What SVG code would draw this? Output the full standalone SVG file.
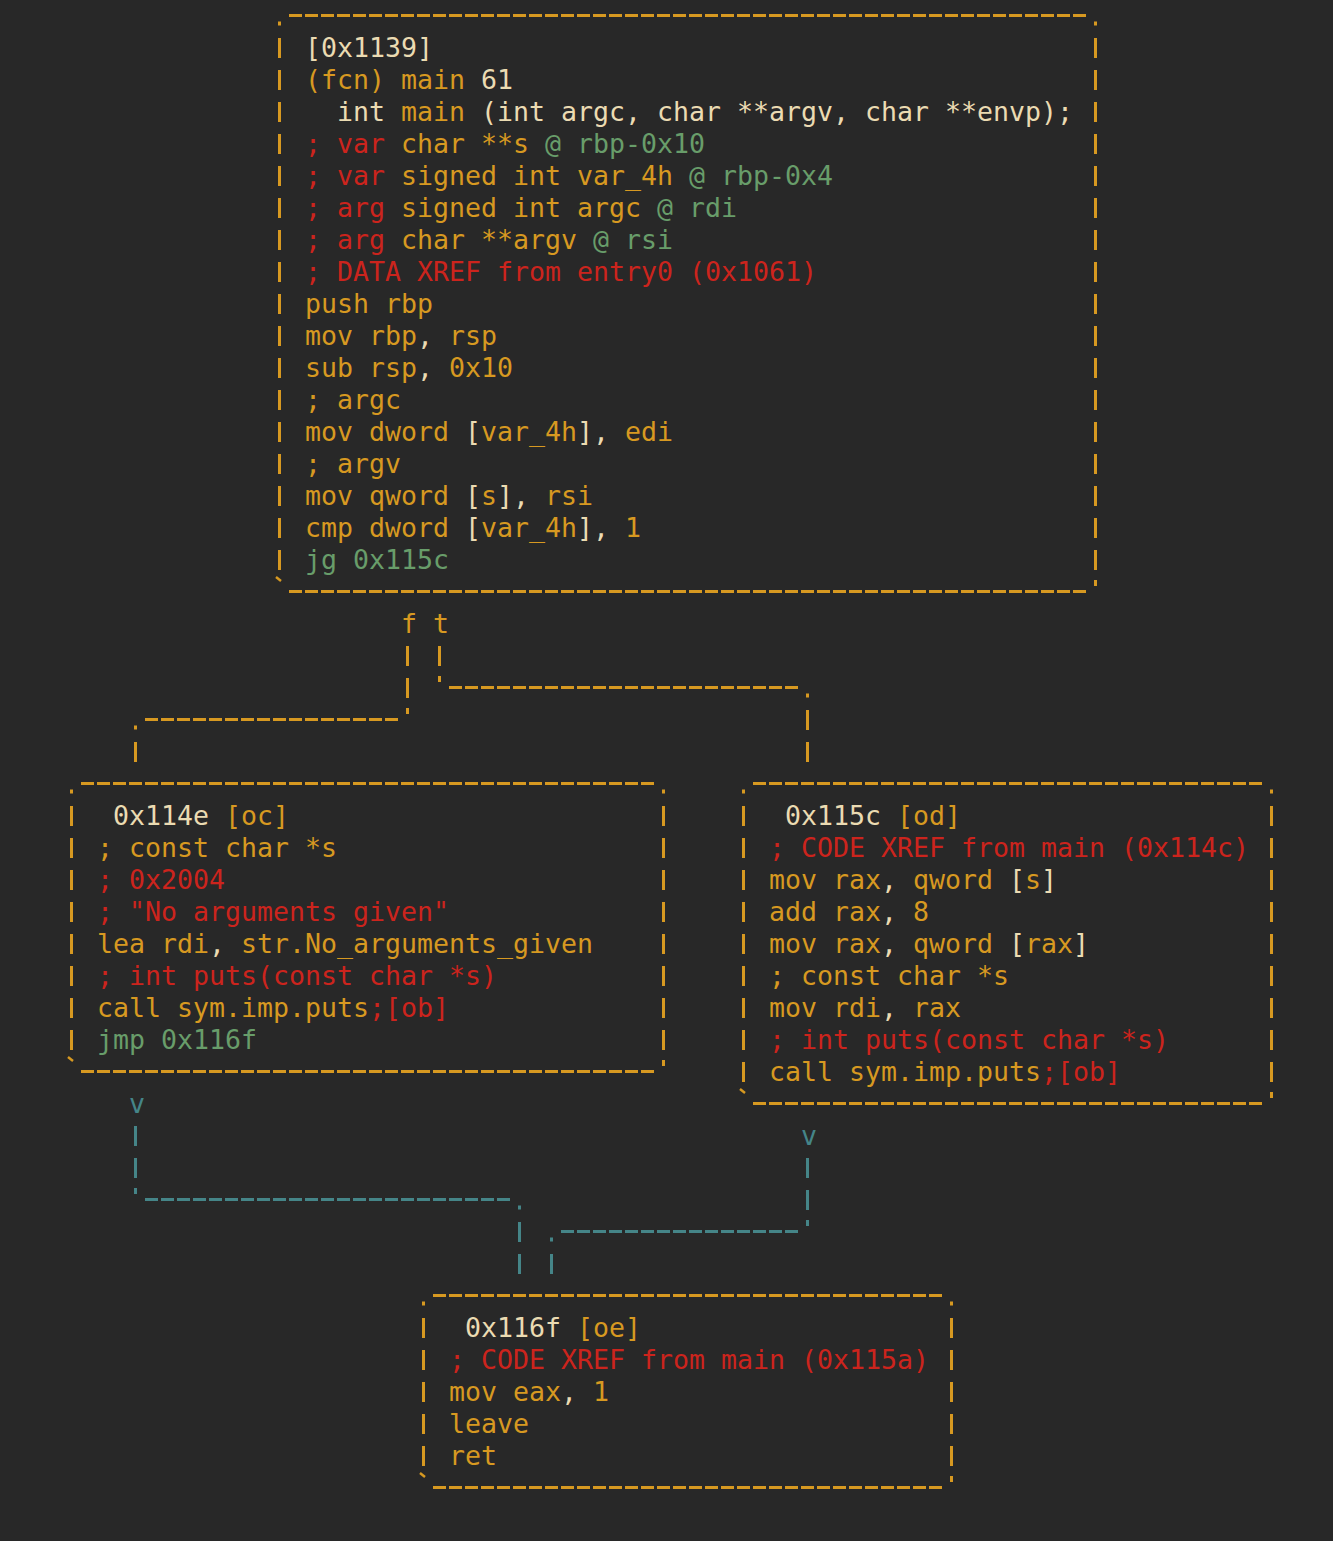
<svg xmlns="http://www.w3.org/2000/svg" width="1333" height="1541" viewBox="0 0 1333 1541">
<style>
text{font-family:"DejaVu Sans Mono","Liberation Mono",monospace;font-size:26.58px;white-space:pre}
.o{fill:#d79921}.c{fill:#ebdbb2}.r{fill:#cc241d}.g{fill:#689d6a}.t{fill:#458588}
.hb{stroke:#d79921;stroke-width:3;stroke-dasharray:13 3;fill:none}
.vb{stroke:#d79921;stroke-width:3;stroke-dasharray:20 12;fill:none}
.bt{stroke:#d79921;stroke-width:2.5;fill:none}
.ht{stroke:#458588;stroke-width:3;stroke-dasharray:13 3;fill:none}
.vt{stroke:#458588;stroke-width:3;stroke-dasharray:20 12;fill:none}
.dot{fill:#d79921}.dtt{fill:#458588}
</style>
<rect width="1333" height="1541" fill="#282828"/>

<g id="node-0x1139">
<line class="hb" x1="289" y1="15.5" x2="1086" y2="15.5"/>
<rect class="dot" x="278" y="21.5" width="3" height="4"/>
<rect class="dot" x="1094" y="21.5" width="3" height="4"/>
<line class="vb" x1="279.5" y1="38" x2="279.5" y2="570"/>
<line class="vb" x1="1095.5" y1="38" x2="1095.5" y2="570"/>
<line class="hb" x1="289" y1="591.5" x2="1086" y2="591.5"/>
<path class="bt" d="M276,577 L281,581"/>
<rect class="dot" x="1094" y="580" width="3" height="6"/>
<text x="305" y="57"><tspan class="c">[0x1139]</tspan></text>
<text x="305" y="89"><tspan class="o">(fcn) main </tspan><tspan class="c">61</tspan></text>
<text x="337" y="121"><tspan class="c">int </tspan><tspan class="o">main</tspan><tspan class="c"> (int argc, char **argv, char **envp);</tspan></text>
<text x="305" y="153"><tspan class="r">; var </tspan><tspan class="o">char **s </tspan><tspan class="g">@ rbp-0x10</tspan></text>
<text x="305" y="185"><tspan class="r">; var </tspan><tspan class="o">signed int var_4h </tspan><tspan class="g">@ rbp-0x4</tspan></text>
<text x="305" y="217"><tspan class="r">; arg </tspan><tspan class="o">signed int argc </tspan><tspan class="g">@ rdi</tspan></text>
<text x="305" y="249"><tspan class="r">; arg </tspan><tspan class="o">char **argv </tspan><tspan class="g">@ rsi</tspan></text>
<text x="305" y="281"><tspan class="r">; DATA XREF from entry0 (0x1061)</tspan></text>
<text x="305" y="313"><tspan class="o">push rbp</tspan></text>
<text x="305" y="345"><tspan class="o">mov rbp</tspan><tspan class="c">,</tspan><tspan class="o"> rsp</tspan></text>
<text x="305" y="377"><tspan class="o">sub rsp</tspan><tspan class="c">,</tspan><tspan class="o"> 0x10</tspan></text>
<text x="305" y="409"><tspan class="o">; argc</tspan></text>
<text x="305" y="441"><tspan class="o">mov dword </tspan><tspan class="c">[</tspan><tspan class="o">var_4h</tspan><tspan class="c">],</tspan><tspan class="o"> edi</tspan></text>
<text x="305" y="473"><tspan class="o">; argv</tspan></text>
<text x="305" y="505"><tspan class="o">mov qword </tspan><tspan class="c">[</tspan><tspan class="o">s</tspan><tspan class="c">],</tspan><tspan class="o"> rsi</tspan></text>
<text x="305" y="537"><tspan class="o">cmp dword </tspan><tspan class="c">[</tspan><tspan class="o">var_4h</tspan><tspan class="c">],</tspan><tspan class="o"> 1</tspan></text>
<text x="305" y="569"><tspan class="g">jg 0x115c</tspan></text>
</g>

<g id="node-0x114e">
<line class="hb" x1="81" y1="783.5" x2="654" y2="783.5"/>
<rect class="dot" x="70" y="789.5" width="3" height="4"/>
<rect class="dot" x="662" y="789.5" width="3" height="4"/>
<line class="vb" x1="71.5" y1="806" x2="71.5" y2="1050"/>
<line class="vb" x1="663.5" y1="806" x2="663.5" y2="1050"/>
<line class="hb" x1="81" y1="1071.5" x2="654" y2="1071.5"/>
<path class="bt" d="M68,1057 L73,1061"/>
<rect class="dot" x="662" y="1060" width="3" height="6"/>
<text x="113" y="825"><tspan class="c">0x114e </tspan><tspan class="o">[oc]</tspan></text>
<text x="97" y="857"><tspan class="o">; const char *s</tspan></text>
<text x="97" y="889"><tspan class="r">; 0x2004</tspan></text>
<text x="97" y="921"><tspan class="r">; "No arguments given"</tspan></text>
<text x="97" y="953"><tspan class="o">lea rdi</tspan><tspan class="c">,</tspan><tspan class="o"> str.No_arguments_given</tspan></text>
<text x="97" y="985"><tspan class="r">; int puts(const char *s)</tspan></text>
<text x="97" y="1017"><tspan class="o">call sym.imp.puts</tspan><tspan class="r">;[ob]</tspan></text>
<text x="97" y="1049"><tspan class="g">jmp 0x116f</tspan></text>
</g>

<g id="node-0x115c">
<line class="hb" x1="753" y1="783.5" x2="1262" y2="783.5"/>
<rect class="dot" x="742" y="789.5" width="3" height="4"/>
<rect class="dot" x="1270" y="789.5" width="3" height="4"/>
<line class="vb" x1="743.5" y1="806" x2="743.5" y2="1082"/>
<line class="vb" x1="1271.5" y1="806" x2="1271.5" y2="1082"/>
<line class="hb" x1="753" y1="1103.5" x2="1262" y2="1103.5"/>
<path class="bt" d="M740,1089 L745,1093"/>
<rect class="dot" x="1270" y="1092" width="3" height="6"/>
<text x="785" y="825"><tspan class="c">0x115c </tspan><tspan class="o">[od]</tspan></text>
<text x="769" y="857"><tspan class="r">; CODE XREF from main (0x114c)</tspan></text>
<text x="769" y="889"><tspan class="o">mov rax</tspan><tspan class="c">,</tspan><tspan class="o"> qword </tspan><tspan class="c">[</tspan><tspan class="o">s</tspan><tspan class="c">]</tspan></text>
<text x="769" y="921"><tspan class="o">add rax</tspan><tspan class="c">,</tspan><tspan class="o"> 8</tspan></text>
<text x="769" y="953"><tspan class="o">mov rax</tspan><tspan class="c">,</tspan><tspan class="o"> qword </tspan><tspan class="c">[</tspan><tspan class="o">rax</tspan><tspan class="c">]</tspan></text>
<text x="769" y="985"><tspan class="o">; const char *s</tspan></text>
<text x="769" y="1017"><tspan class="o">mov rdi</tspan><tspan class="c">,</tspan><tspan class="o"> rax</tspan></text>
<text x="769" y="1049"><tspan class="r">; int puts(const char *s)</tspan></text>
<text x="769" y="1081"><tspan class="o">call sym.imp.puts</tspan><tspan class="r">;[ob]</tspan></text>
</g>

<g id="node-0x116f">
<line class="hb" x1="433" y1="1295.5" x2="942" y2="1295.5"/>
<rect class="dot" x="422" y="1301.5" width="3" height="4"/>
<rect class="dot" x="950" y="1301.5" width="3" height="4"/>
<line class="vb" x1="423.5" y1="1318" x2="423.5" y2="1466"/>
<line class="vb" x1="951.5" y1="1318" x2="951.5" y2="1466"/>
<line class="hb" x1="433" y1="1487.5" x2="942" y2="1487.5"/>
<path class="bt" d="M420,1473 L425,1477"/>
<rect class="dot" x="950" y="1476" width="3" height="6"/>
<text x="465" y="1337"><tspan class="c">0x116f </tspan><tspan class="o">[oe]</tspan></text>
<text x="449" y="1369"><tspan class="r">; CODE XREF from main (0x115a)</tspan></text>
<text x="449" y="1401"><tspan class="o">mov eax</tspan><tspan class="c">,</tspan><tspan class="o"> 1</tspan></text>
<text x="449" y="1433"><tspan class="o">leave</tspan></text>
<text x="449" y="1465"><tspan class="o">ret</tspan></text>
</g>

<g id="connectors">
<text x="401" y="633" class="o">f</text>
<text x="433" y="633" class="o">t</text>
<line class="vb" x1="407.5" y1="646" x2="407.5" y2="698"/>
<rect class="dot" x="406" y="708" width="3" height="6"/>
<line class="hb" x1="145" y1="719.5" x2="398" y2="719.5"/>
<rect class="dot" x="134" y="725.5" width="3" height="4"/>
<line class="vb" x1="135.5" y1="742" x2="135.5" y2="762"/>
<line class="vb" x1="439.5" y1="646" x2="439.5" y2="666"/>
<rect class="dot" x="438" y="676" width="3" height="6"/>
<line class="hb" x1="449" y1="687.5" x2="798" y2="687.5"/>
<rect class="dot" x="806" y="693.5" width="3" height="4"/>
<line class="vb" x1="807.5" y1="710" x2="807.5" y2="762"/>

<text x="129" y="1113" class="t">v</text>
<line class="vt" x1="135.5" y1="1126" x2="135.5" y2="1178"/>
<rect class="dtt" x="134" y="1188" width="3" height="6"/>
<line class="ht" x1="145" y1="1199.5" x2="510" y2="1199.5"/>
<rect class="dtt" x="518" y="1205.5" width="3" height="4"/>
<line class="vt" x1="519.5" y1="1222" x2="519.5" y2="1274"/>

<text x="801" y="1145" class="t">v</text>
<line class="vt" x1="807.5" y1="1158" x2="807.5" y2="1210"/>
<rect class="dtt" x="806" y="1220" width="3" height="6"/>
<line class="ht" x1="561" y1="1231.5" x2="798" y2="1231.5"/>
<rect class="dtt" x="550" y="1237.5" width="3" height="4"/>
<line class="vt" x1="551.5" y1="1254" x2="551.5" y2="1274"/>
</g>
</svg>
